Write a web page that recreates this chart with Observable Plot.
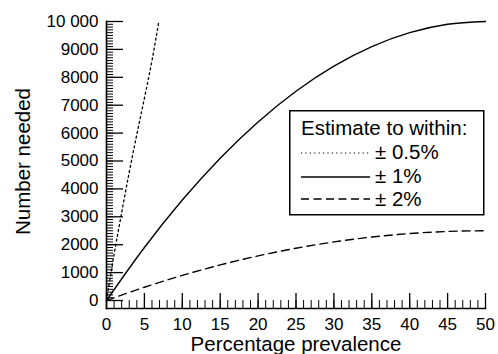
<!DOCTYPE html>
<html><head><meta charset="utf-8">
<script src="https://cdn.jsdelivr.net/npm/d3@7"></script>
<script src="https://cdn.jsdelivr.net/npm/@observablehq/plot@0.6"></script>
<style>
html,body{margin:0;padding:0;background:#fff;}
#chart{position:relative;width:498px;height:354px;font-family:"Liberation Sans",Arial,sans-serif;}
#chart svg{display:block;}
#legend{position:absolute;left:289px;top:110px;}
</style></head><body><div id="chart"></div>
<script>
// ±1% curve
const prevalence1 = [0, 5, 10, 15, 20, 25, 30, 35, 40, 45, 50];
const needed1 = [0, 1900, 3600, 5100, 6400, 7500, 8400, 9100, 9600, 9900, 10000];
// ±2% curve
const prevalence2 = [0, 5, 10, 15, 20, 25, 30, 35, 40, 45, 50];
const needed2 = [0, 475, 900, 1275, 1600, 1875, 2100, 2275, 2400, 2475, 2500];
// ±0.5% curve
const prevalenceHalf = [0, 1, 2, 3, 4, 5, 6, 6.9];
const neededHalf = [0, 1650, 3150, 4600, 5950, 7250, 8600, 10000];

const yTicks = [0, 1000, 2000, 3000, 4000, 5000, 6000, 7000, 8000, 9000, 10000];
const yTickLabels = ["0", "1000", "2000", "3000", "4000", "5000", "6000", "7000", "8000", "9000", "10 000"];
const xTicks = [0, 5, 10, 15, 20, 25, 30, 35, 40, 45, 50];
const xTickLabels = ["0", "5", "10", "15", "20", "25", "30", "35", "40", "45", "50"];
const yMinorTicks = d3.range(0, 10001, 100);
const xMinorTicks = d3.range(0, 51, 1);
const xLabel = "Percentage prevalence";
const yLabel = "Number needed";
const legendTitle = "Estimate to within:";
const seriesKeys = ["0.5", "1", "2"];
const legendLabels = ["± 0.5%", "± 1%", "± 2%"];
const dashes = {"0.5": "2,3", "1": null, "2": "8,5"};
const legendDashes = {"0.5": "1.2,3.2", "1": null, "2": "8,4.5"};

const rows = [];
prevalenceHalf.forEach((p, i) => rows.push({s: "0.5", x: p, y: neededHalf[i]}));
prevalence1.forEach((p, i) => rows.push({s: "1", x: p, y: needed1[i]}));
prevalence2.forEach((p, i) => rows.push({s: "2", x: p, y: needed2[i]}));

const W = 498, H = 354, mL = 106, mR = 13, mT = 21, mB = 46;
const frameW = W - mL - mR, frameH = H - mT - mB;

const lineMarks = seriesKeys.map(k => Plot.line(rows.filter(r => r.s === k), {
  x: "x", y: "y", stroke: "#000", strokeWidth: k === "0.5" ? 1.3 : 1.4,
  strokeDasharray: dashes[k], curve: "monotone-x"
}));

const plot = Plot.plot({
  width: W, height: H,
  marginLeft: mL, marginRight: mR, marginTop: mT, marginBottom: mB,
  style: {fontFamily: "'Liberation Sans', Arial, sans-serif", fontSize: "17px", color: "#000", background: "#fff", overflow: "visible"},
  x: {domain: [0, 50]},
  y: {domain: [0, 10000], insetBottom: 8},
  marks: [
    Plot.tickY(yMinorTicks, {y: d => d, stroke: "#000", strokeWidth: 1, insetRight: frameW - 7}),
    Plot.tickY(yTicks, {y: d => d, stroke: "#000", strokeWidth: 1.3, insetRight: frameW - 17}),
    Plot.axisY(yTicks, {tickSize: 0, tickPadding: 8, fontSize: 17, tickFormat: d => yTickLabels[yTicks.indexOf(d)], label: null}),
    Plot.tickX(xMinorTicks, {x: d => d, stroke: "#000", strokeWidth: 1, insetTop: frameH - 8}),
    Plot.tickX(xTicks, {x: d => d, stroke: "#000", strokeWidth: 1.3, insetTop: frameH - 15}),
    Plot.axisX(xTicks, {tickSize: 0, tickPadding: 9, fontSize: 17, tickFormat: d => xTickLabels[xTicks.indexOf(d)], label: null}),
    Plot.frame({anchor: "left", strokeWidth: 1.6}),
    Plot.frame({anchor: "bottom", strokeWidth: 1.6}),
    ...lineMarks,
    Plot.text([xLabel], {text: d => d, frameAnchor: "bottom", textAnchor: "middle", dy: 28, lineAnchor: "top", fontSize: 20.5}),
    Plot.text([yLabel], {text: d => d, frameAnchor: "left", textAnchor: "middle", rotate: -90, dx: -91, dy: -3.5, lineAnchor: "top", fontSize: 20.5})
  ]
});
const chart = document.getElementById("chart");
chart.appendChild(plot);

// Legend box
const lg = d3.select(chart).append("svg").attr("id", "legend")
  .attr("width", 196).attr("height", 106)
  .style("font-family", "'Liberation Sans', Arial, sans-serif");
lg.append("rect").attr("x", 0.75).attr("y", 0.75).attr("width", 194).attr("height", 104)
  .attr("fill", "#fff").attr("stroke", "#000").attr("stroke-width", 1.5);
lg.append("text").attr("x", 12).attr("y", 25).attr("font-size", 20.5).text(legendTitle);
const rowY = [43, 67, 89];
const rowTextY = [49, 73, 96];
seriesKeys.forEach((k, i) => {
  lg.append("line").attr("x1", 12).attr("x2", 81).attr("y1", rowY[i]).attr("y2", rowY[i])
    .attr("stroke", "#000").attr("stroke-width", k === "0.5" ? 1.2 : 1.4)
    .attr("stroke-dasharray", legendDashes[k]);
  lg.append("text").attr("x", 86).attr("y", rowTextY[i]).attr("font-size", 20.5).text(legendLabels[i]);
});
</script>
</body></html>
